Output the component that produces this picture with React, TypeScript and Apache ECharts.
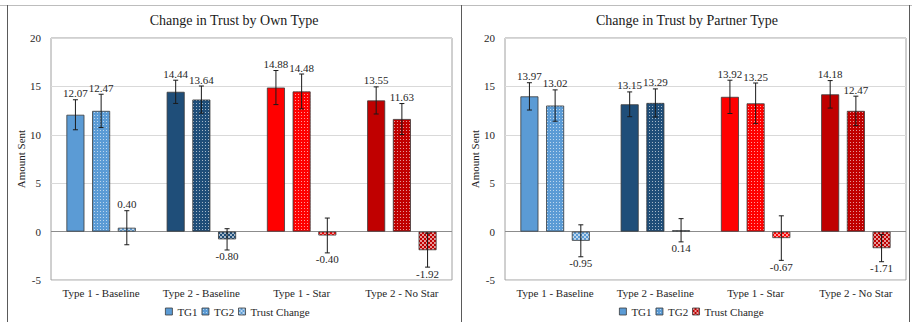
import React, { useEffect, useRef } from 'react';
import * as echarts from 'echarts';

const categories = ['Type 1 - Baseline', 'Type 2 - Baseline', 'Type 1 - Star', 'Type 2 - No Star'];
const seriesNames = ['TG1', 'TG2', 'Trust Change'];
const yTicks = { min: -5, max: 20, interval: 5 };

// Panel 1: by own type
const ownTG1 = [12.07, 14.44, 14.88, 13.55];
const ownTG1Err = [1.55, 1.2, 1.76, 1.4];
const ownTG2 = [12.47, 13.64, 14.48, 11.63];
const ownTG2Err = [1.72, 1.4, 1.8, 1.6];
const ownTC = [0.4, -0.8, -0.4, -1.92];
const ownTCErr = [1.76, 1.1, 1.8, 1.75];

// Panel 2: by partner type
const partnerTG1 = [13.97, 13.15, 13.92, 14.18];
const partnerTG1Err = [1.41, 1.28, 1.72, 1.42];
const partnerTG2 = [13.02, 13.29, 13.25, 12.47];
const partnerTG2Err = [1.62, 1.45, 2.1, 1.52];
const partnerTC = [-0.95, 0.14, -0.67, -1.71];
const partnerTCErr = [1.65, 1.2, 2.3, 1.4];

const groupColors = ['#5B9BD5', '#1F4E79', '#FF0000', '#C00000'];

const FONT = 'Liberation Serif';
const FS = 11;
const TEXT_COLOR = '#262626';
const BAR_W = 18;
const BAR_GAP_PX = 7.7;

function makePattern(color: string, kind: 'dot' | 'check') {
  const c = document.createElement('canvas');
  const n = kind === 'dot' ? 3 : 4;
  c.width = n;
  c.height = n;
  const ctx = c.getContext('2d')!;
  ctx.fillStyle = color;
  ctx.fillRect(0, 0, n, n);
  ctx.fillStyle = 'rgba(255,255,255,0.6)';
  if (kind === 'dot') {
    ctx.fillRect(1, 1, 1, 1);
  } else {
    ctx.fillRect(0, 0, 2, 2);
    ctx.fillRect(2, 2, 2, 2);
  }
  return { image: c, repeat: 'repeat' } as any;
}

function buildPanel(
  idx: number,
  tg1: number[], tg1e: number[],
  tg2: number[], tg2e: number[],
  tc: number[], tce: number[],
  tcLegendColor: string,
  legendLeft: number
) {
  const values = [tg1, tg2, tc];
  const errs = [tg1e, tg2e, tce];
  const kinds: (null | 'dot' | 'check')[] = [null, 'dot', 'check'];
  const fillFor = (color: string, k: null | 'dot' | 'check') => (k ? makePattern(color, k) : color);

  const bars = values.map((vals, si) => ({
    type: 'bar',
    name: seriesNames[si],
    xAxisIndex: idx,
    yAxisIndex: idx,
    barWidth: BAR_W,
    barGap: `${((BAR_GAP_PX / BAR_W) * 100).toFixed(1)}%`,
    itemStyle: {
      color: fillFor(groupColors[0], kinds[si]),
      borderColor: '#3a3a3a',
      borderWidth: 0.8,
    },
    data: vals.map((v, ci) => ({
      value: v,
      itemStyle: { color: fillFor(groupColors[ci], kinds[si]), borderColor: '#3a3a3a', borderWidth: 0.8 },
    })),
    markLine: si === 0 ? {
      silent: true,
      symbol: 'none',
      label: { show: false },
      lineStyle: { color: '#8c8c8c', width: 1, type: 'solid' },
      data: [{ yAxis: 0 }],
      z: 1,
    } : undefined,
    z: 2,
  }));

  const errData: number[][] = [];
  values.forEach((vals, si) => vals.forEach((v, ci) => errData.push([ci, si, v, errs[si][ci]])));

  const errSeries = {
    type: 'custom',
    xAxisIndex: idx,
    yAxisIndex: idx,
    encode: { x: 0, y: 2 },
    data: errData,
    z: 5,
    renderItem: (params: any, api: any) => {
      const cat = api.value(0) as number;
      const si = api.value(1) as number;
      const v = api.value(2) as number;
      const e = api.value(3) as number;
      const cx = api.coord([cat, v])[0] + (si - 1) * (BAR_W + BAR_GAP_PX);
      const yTop = api.coord([cat, v + e])[1];
      const yBot = api.coord([cat, v - e])[1];
      const below = v < 0.2;
      const cap = 2.5;
      const ls = { stroke: '#1a1a1a', lineWidth: 1 };
      return {
        type: 'group',
        children: [
          { type: 'line', shape: { x1: cx, y1: yTop, x2: cx, y2: yBot }, style: ls },
          { type: 'line', shape: { x1: cx - cap, y1: yTop, x2: cx + cap, y2: yTop }, style: ls },
          { type: 'line', shape: { x1: cx - cap, y1: yBot, x2: cx + cap, y2: yBot }, style: ls },
          {
            type: 'text',
            x: cx,
            y: below ? yBot + 1 : yTop - 1,
            style: {
              text: v.toFixed(2),
              align: 'center',
              verticalAlign: below ? 'top' : 'bottom',
              fontFamily: FONT,
              fontSize: FS,
              fill: TEXT_COLOR,
            },
          },
        ],
      };
    },
  };

  const legend = {
    left: legendLeft,
    top: 306,
    padding: 0,
    itemWidth: 7,
    itemHeight: 7,
    itemGap: 4,
    icon: 'rect',
    selectedMode: false,
    textStyle: { fontFamily: FONT, fontSize: FS, color: TEXT_COLOR },
    data: [
      { name: 'TG1', itemStyle: { color: groupColors[0], borderColor: '#3a3a3a', borderWidth: 0.8 } },
      { name: 'TG2', itemStyle: { color: makePattern(groupColors[0], 'dot'), borderColor: '#3a3a3a', borderWidth: 0.8 } },
      { name: 'Trust Change', itemStyle: { color: makePattern(tcLegendColor, 'check'), borderColor: '#3a3a3a', borderWidth: 0.8 } },
    ],
  };

  return { series: [...bars, errSeries], legend };
}

export default function App() {
  const ref = useRef<HTMLDivElement>(null);
  useEffect(() => {
    if (!ref.current) return;
    const chart = echarts.init(ref.current, undefined, { renderer: 'svg' });
    const p1 = buildPanel(0, ownTG1, ownTG1Err, ownTG2, ownTG2Err, ownTC, ownTCErr, groupColors[0], 165);
    const p2 = buildPanel(1, partnerTG1, partnerTG1Err, partnerTG2, partnerTG2Err, partnerTC, partnerTCErr, groupColors[3], 619);

    const grids = [
      { left: 51, width: 401, top: 38, height: 242 },
      { left: 505, width: 401, top: 38, height: 242 },
    ];

    const xAxes = grids.map((_, i) => ({
      type: 'category',
      gridIndex: i,
      data: categories,
      axisLine: { show: false, onZero: false },
      axisTick: { show: false },
      axisLabel: { fontFamily: FONT, fontSize: FS, color: TEXT_COLOR, margin: 7, interval: 0, hideOverlap: false },
    }));

    const yAxes = grids.map((_, i) => ({
      type: 'value',
      gridIndex: i,
      min: yTicks.min,
      max: yTicks.max,
      interval: yTicks.interval,
      name: 'Amount Sent',
      nameLocation: 'middle',
      nameRotate: 90,
      nameGap: 23,
      nameTextStyle: { fontFamily: FONT, fontSize: FS, color: TEXT_COLOR },
      axisLine: { show: false },
      axisTick: { show: false },
      axisLabel: { fontFamily: FONT, fontSize: FS, color: TEXT_COLOR, margin: 10 },
      splitLine: { lineStyle: { color: '#d9d9d9', width: 1 } },
    }));

    const frameStyle = { stroke: '#5a5a5a', lineWidth: 1 };
    chart.setOption({
      animation: false,
      backgroundColor: '#ffffff',
      grid: grids.map((g) => ({ ...g, show: true, borderColor: '#a0a0a0', borderWidth: 1, backgroundColor: 'transparent' })),
      xAxis: xAxes,
      yAxis: yAxes,
      legend: [p1.legend, p2.legend],
      series: [...p1.series, ...p2.series],
      graphic: [
        { type: 'line', shape: { x1: 0, y1: 5.5, x2: 912, y2: 5.5 }, style: { stroke: '#bdbdbd', lineWidth: 1 } },
        { type: 'line', shape: { x1: 7.5, y1: 5, x2: 7.5, y2: 322 }, style: frameStyle },
        { type: 'line', shape: { x1: 461.5, y1: 5, x2: 461.5, y2: 322 }, style: frameStyle },
        { type: 'line', shape: { x1: 909.5, y1: 5, x2: 909.5, y2: 322 }, style: frameStyle },
        {
          type: 'text', x: 234, y: 20,
          style: { text: 'Change in Trust by Own Type', align: 'center', verticalAlign: 'middle', fontFamily: FONT, fontSize: 14, fill: '#1a1a1a' },
        },
        {
          type: 'text', x: 687, y: 20,
          style: { text: 'Change in Trust by Partner Type', align: 'center', verticalAlign: 'middle', fontFamily: FONT, fontSize: 14, fill: '#1a1a1a' },
        },
      ],
    });
    return () => chart.dispose();
  }, []);
  return <div ref={ref} style={{ position: 'fixed', left: 0, top: 0, width: 912, height: 322, background: '#fff' }} />;
}
